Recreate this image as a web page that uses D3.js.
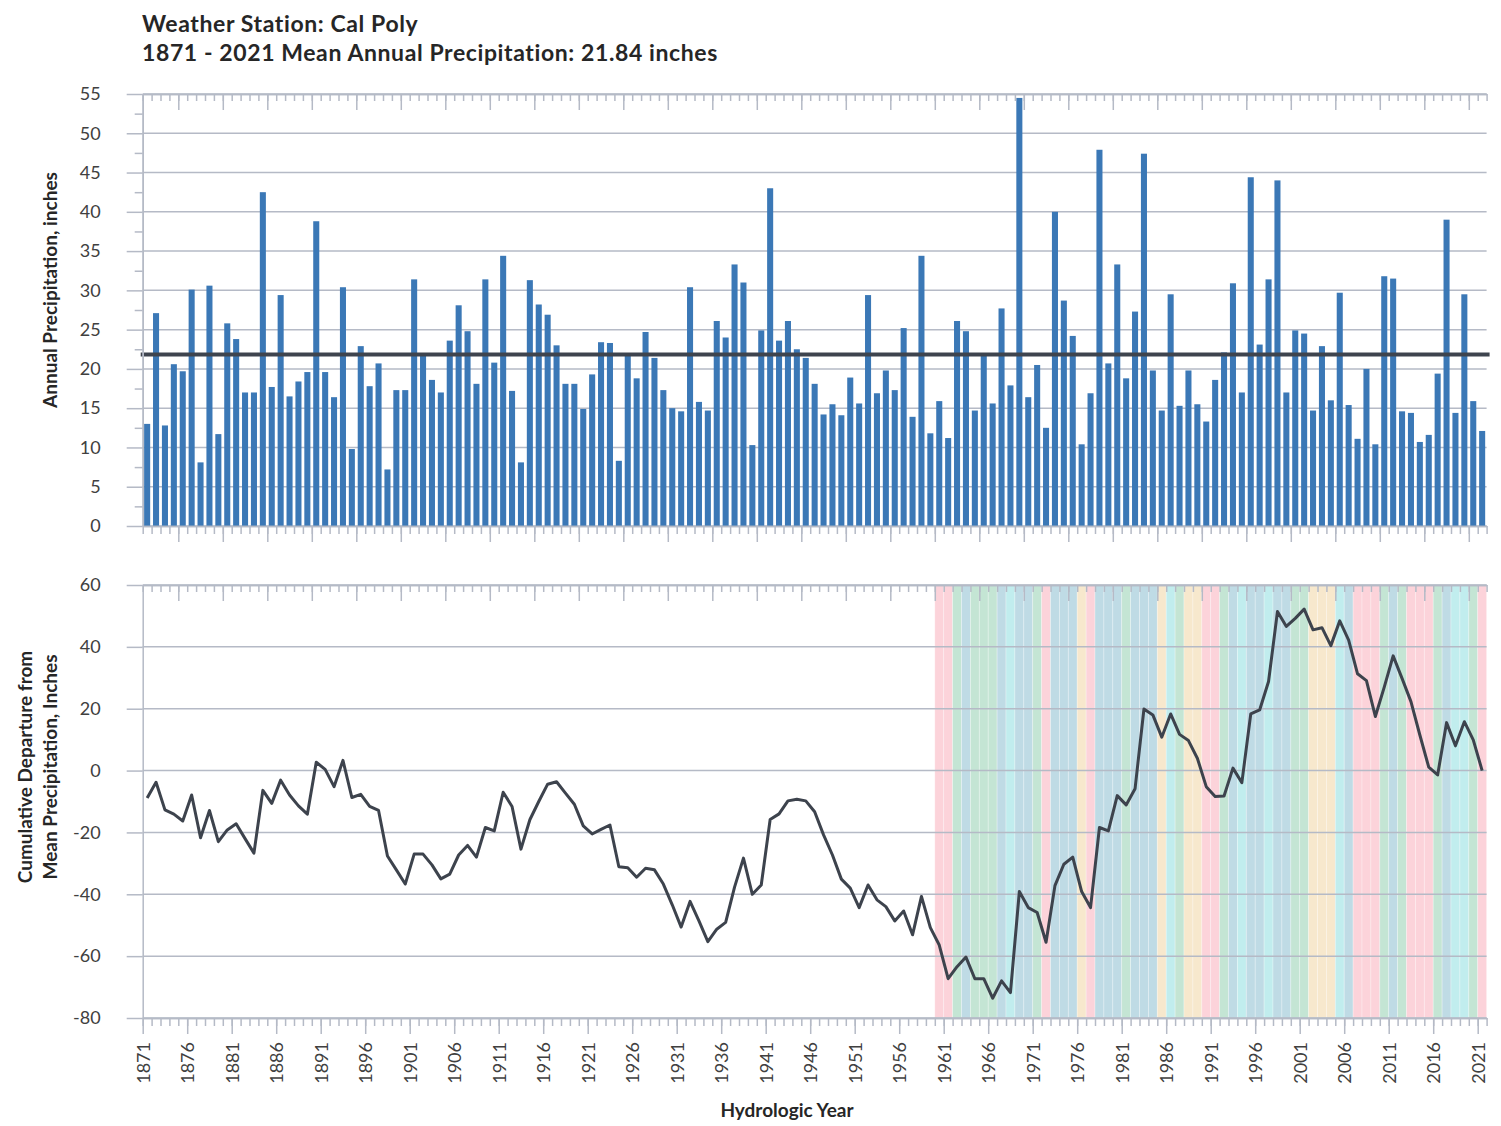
<!doctype html>
<html>
<head>
<meta charset="utf-8">
<script src="https://d3js.org/d3.v7.min.js"></script>
<style>
  body { margin: 0; background: #fff; }
  text { font-family: Lato, "Open Sans", sans-serif; fill: #404040; }
  .grid line { stroke: #b5bac6; stroke-width: 1.5; }
  .ax path, .ax line { stroke: #b5bac6; stroke-width: 1.5; }
  .ax text { font-size: 18px; fill: #404040; }
  .title { font-weight: bold; font-size: 23px; letter-spacing: 0.6px; fill: #262626; }
  .atitle { font-weight: bold; font-size: 19px; fill: #262626; }
</style>
</head>
<body>
<svg id="chart" width="1501" height="1126"></svg>
<script>
// hydrologic years
var years = d3.range(1871, 2022);

// annual precipitation, inches (one per year, 1871-2021)
var precip = [
  13.0, 27.1, 12.8, 20.6, 19.7, 30.1, 8.1, 30.6, 11.7, 25.8,
  23.8, 17.0, 17.0, 42.5, 17.7, 29.4, 16.5, 18.4, 19.6, 38.8,
  19.6, 16.4, 30.4, 9.8, 22.9, 17.8, 20.7, 7.2, 17.3, 17.3,
  31.4, 21.8, 18.6, 17.0, 23.6, 28.1, 24.8, 18.1, 31.4, 20.8,
  34.4, 17.2, 8.1, 31.3, 28.2, 26.9, 23.0, 18.1, 18.1, 14.9,
  19.3, 23.4, 23.3, 8.3, 21.8, 18.8, 24.7, 21.4, 17.3, 15.0,
  14.6, 30.4, 15.8, 14.7, 26.1, 24.0, 33.3, 31.0, 10.3, 24.9,
  43.0, 23.6, 26.1, 22.5, 21.4, 18.1, 14.2, 15.5, 14.1, 18.9,
  15.6, 29.4, 16.9, 19.8, 17.3, 25.2, 13.9, 34.4, 11.8, 15.9,
  11.2, 26.1, 24.8, 14.7, 21.8, 15.6, 27.7, 17.9, 54.5, 16.4,
  20.5, 12.5, 40.0, 28.7, 24.2, 10.4, 16.9, 47.9, 20.7, 33.3,
  18.8, 27.3, 47.4, 19.8, 14.7, 29.5, 15.3, 19.8, 15.5, 13.3,
  18.6, 22.1, 30.9, 17.0, 44.4, 23.1, 31.4, 44.0, 17.0, 24.9,
  24.5, 14.7, 22.9, 16.0, 29.7, 15.4, 11.1, 20.0, 10.4, 31.8,
  31.5, 14.6, 14.4, 10.7, 11.6, 19.4, 39.0, 14.4, 29.5, 15.9,
  12.1
];

var meanPrecip = 21.84;

// cumulative departure from mean, inches
var cumDeparture = [
  -8.9, -3.8, -12.7, -14.1, -16.3, -7.9, -21.7, -12.9, -23.0, -19.2,
  -17.2, -22.0, -26.7, -6.4, -10.6, -3.1, -7.9, -11.4, -14.1, 2.7,
  0.4, -5.2, 3.3, -8.7, -7.7, -11.6, -12.9, -27.6, -32.1, -36.7,
  -27.0, -27.0, -30.5, -35.0, -33.5, -27.3, -24.2, -28.0, -18.4, -19.5,
  -7.0, -11.6, -25.4, -15.9, -10.0, -4.4, -3.6, -7.3, -10.9, -17.9,
  -20.5, -19.0, -17.6, -31.1, -31.4, -34.5, -31.6, -32.1, -36.7, -43.4,
  -50.6, -42.3, -48.6, -55.3, -51.3, -49.1, -37.7, -28.3, -40.0, -37.0,
  -15.8, -14.0, -9.8, -9.3, -9.8, -13.3, -20.8, -27.3, -35.1, -38.0,
  -44.3, -37.0, -41.8, -44.0, -48.6, -45.4, -53.1, -40.7, -50.8, -56.4,
  -67.3, -63.4, -60.3, -67.3, -67.3, -73.6, -68.0, -71.8, -39.1, -44.3,
  -45.9, -55.5, -37.2, -30.3, -28.0, -39.1, -44.3, -18.4, -19.5, -8.1,
  -11.1, -5.9, 19.9, 18.0, 10.8, 18.3, 11.7, 9.7, 4.0, -5.2,
  -8.4, -8.2, 0.8, -3.9, 18.3, 19.6, 28.8, 51.4, 46.6, 49.2,
  52.2, 45.5, 46.2, 40.4, 48.4, 42.2, 31.3, 29.1, 17.5, 27.0,
  37.1, 29.8, 22.3, 11.5, 1.1, -1.4, 15.5, 8.0, 15.8, 9.9,
  0.0
];

// background year classes, 1960-2021
var bandStart = 1960;
var bandClass = [
  "p","p","g","b","g","g","g","b","c","b",
  "b","g","p","b","b","b","y","p","b","b",
  "b","g","b","b","b","y","c","g","y","y",
  "p","p","g","b","c","b","b","c","b","b",
  "g","g","y","y","y","c","b","p","p","p",
  "g","b","g","p","p","p","g","b","c","c",
  "g","p"
];
var bandColor = { p: "#fcd3da", g: "#c4e5d4", b: "#bfdbe5", c: "#c1edee", y: "#f7e8cd" };

var svg = d3.select("#chart");
svg.append("rect").attr("width", 1501).attr("height", 1126).attr("fill", "#fff");

var x0 = 142.7, x1 = 1486.6;
var x = d3.scaleBand().domain(years).range([x0, x1]);
var bw = x.bandwidth();
var xb = d3.scaleLinear().domain([0, years.length]).range([x0, x1]);
var yTop = d3.scaleLinear().domain([0, 55]).range([526, 94]);
var yBot = d3.scaleLinear().domain([-80, 60]).range([1018, 585]);

var allK = d3.range(0, years.length + 1);
var plain = function (d) { return String(d); };

// ---- titles
svg.append("text").attr("class", "title").attr("x", 142).attr("y", 32)
  .text("Weather Station: Cal Poly");
svg.append("text").attr("class", "title").attr("x", 142).attr("y", 61)
  .text("1871 - 2021 Mean Annual Precipitation: 21.84 inches");

// ---- top panel
svg.append("g").attr("class", "grid")
  .selectAll("line").data(d3.range(0, 56, 5)).enter().append("line")
  .attr("x1", x0).attr("x2", x1)
  .attr("y1", function (d) { return yTop(d); })
  .attr("y2", function (d) { return yTop(d); });

svg.append("g").selectAll("rect").data(years).enter().append("rect")
  .attr("x", function (d) { return x(d) + bw * 0.16; })
  .attr("width", bw * 0.68)
  .attr("y", function (d, i) { return yTop(precip[i]); })
  .attr("height", function (d, i) { return yTop(0) - yTop(precip[i]); })
  .attr("fill", "#3b78b6");

svg.append("line")
  .attr("x1", x0 - 2).attr("x2", x1 + 3)
  .attr("y1", yTop(meanPrecip)).attr("y2", yTop(meanPrecip))
  .attr("stroke", "#3e444e").attr("stroke-width", 4);

function catTicks(yPos, majorRem, minorLen, majorLen) {
  svg.append("g").attr("class", "ax").attr("transform", "translate(0," + yPos + ")")
    .call(d3.axisBottom(xb).tickValues(allK).tickSize(minorLen).tickSizeOuter(0).tickFormat(""));
  svg.append("g").attr("class", "ax").attr("transform", "translate(0," + yPos + ")")
    .call(d3.axisBottom(xb).tickValues(allK.filter(function (k) { return k % 5 === majorRem; }))
      .tickSize(majorLen).tickSizeOuter(0).tickFormat(""));
}
catTicks(yTop(55), 4, 7, 16);
catTicks(yTop(0), 4, 8, 16);

svg.append("g").attr("class", "ax").attr("transform", "translate(" + x0 + ",0)")
  .call(d3.axisLeft(yTop).tickValues(d3.range(2.5, 55, 5)).tickSize(8).tickSizeOuter(0).tickFormat(""));
svg.append("g").attr("class", "ax").attr("transform", "translate(" + x0 + ",0)")
  .call(d3.axisLeft(yTop).tickValues(d3.range(0, 56, 5)).tickSize(16).tickSizeOuter(0)
    .tickPadding(26).tickFormat(plain));

svg.append("text").attr("class", "atitle")
  .attr("transform", "translate(57,290) rotate(-90)")
  .attr("text-anchor", "middle")
  .text("Annual Precipitation, inches");

// ---- bottom panel
svg.append("g").selectAll("rect").data(bandClass).enter().append("rect")
  .attr("x", function (d, i) { return x(bandStart + i); })
  .attr("width", bw)
  .attr("y", yBot(60)).attr("height", yBot(-80) - yBot(60))
  .attr("fill", function (d) { return bandColor[d]; })
  .attr("stroke", "#ffffff").attr("stroke-opacity", 0.35).attr("stroke-width", 0.8);

svg.append("g").attr("class", "grid")
  .selectAll("line").data(d3.range(-80, 61, 20)).enter().append("line")
  .attr("x1", x0).attr("x2", x1)
  .attr("y1", function (d) { return yBot(d); })
  .attr("y2", function (d) { return yBot(d); });

catTicks(yBot(60), 4, 7, 16);
catTicks(yBot(-80), 0, 8, 16);

var xl = svg.append("g").attr("class", "ax").attr("transform", "translate(0," + yBot(-80) + ")")
  .call(d3.axisBottom(xb).tickValues(allK.filter(function (k) { return k % 5 === 0 && k < years.length; }))
    .tickSize(0).tickSizeOuter(0).tickFormat(function (k) { return years[k]; }));
xl.select(".domain").remove();
xl.selectAll("text")
  .attr("transform", "rotate(-90)")
  .attr("text-anchor", "end")
  .attr("x", -24).attr("y", 0).attr("dy", "0.35em");

svg.append("g").attr("class", "ax").attr("transform", "translate(" + x0 + ",0)")
  .call(d3.axisLeft(yBot).tickValues(d3.range(-80, 61, 20)).tickSize(16).tickSizeOuter(0)
    .tickPadding(26).tickFormat(plain));

var line = d3.line()
  .x(function (d, i) { return x(years[i]) + bw / 2; })
  .y(function (d) { return yBot(d); });
svg.append("path").datum(cumDeparture)
  .attr("d", line)
  .attr("fill", "none")
  .attr("stroke", "#3d434d")
  .attr("stroke-width", 3)
  .attr("stroke-linejoin", "round");

var t2 = svg.append("text").attr("class", "atitle")
  .attr("transform", "translate(32,767) rotate(-90)")
  .attr("text-anchor", "middle");
t2.append("tspan").attr("x", 0).attr("dy", 0).text("Cumulative Departure from");
t2.append("tspan").attr("x", 0).attr("dy", 25).text("Mean Precipitation, Inches");

svg.append("text").attr("class", "atitle")
  .attr("x", 787).attr("y", 1117).attr("text-anchor", "middle")
  .text("Hydrologic Year");
</script>
</body>
</html>
